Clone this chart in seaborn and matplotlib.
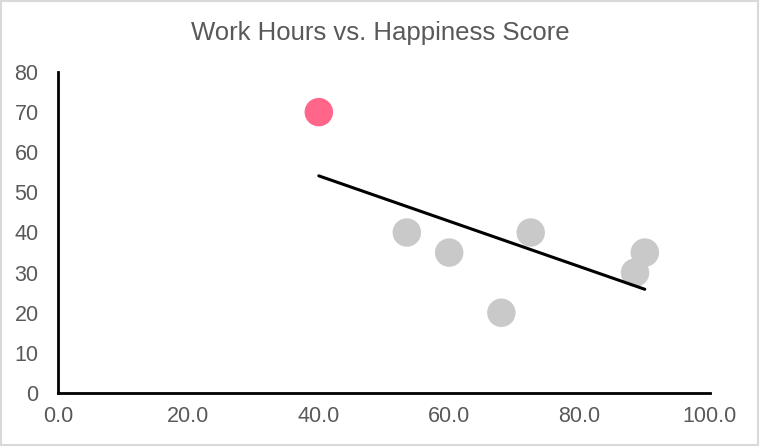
import numpy as np
import pandas as pd
import matplotlib
matplotlib.use('Agg')
import matplotlib.pyplot as plt
import seaborn as sns

# Данные
work_hours = [40, 53.5, 60, 68, 72.5, 88.5, 90]
happiness = [70, 40, 35, 20, 40, 30, 35]
highlight = [True, False, False, False, False, False, False]

df = pd.DataFrame({'Work Hours': work_hours, 'Happiness': happiness,
                   'Highlight': highlight})

sns.set_style('white')
plt.rcParams['font.family'] = ['Liberation Sans', 'DejaVu Sans']

fig = plt.figure(figsize=(7.6, 4.46), dpi=100)
ax = fig.add_axes([58 / 760, 1 - 393 / 446, 652 / 760, 321 / 446])

sns.scatterplot(data=df, x='Work Hours', y='Happiness', hue='Highlight',
                palette={True: '#FF6689', False: '#C9C9C9'}, s=420,
                edgecolor='none', legend=False, ax=ax, zorder=2)
sns.regplot(data=df, x='Work Hours', y='Happiness', scatter=False, ci=None,
            color='black', line_kws={'linewidth': 2.2, 'zorder': 3}, ax=ax)

ax.set_xlim(0, 100)
ax.set_ylim(0, 80)
ax.set_xticks(np.arange(0, 101, 20))
ax.set_xticklabels([f'{v:.1f}' for v in np.arange(0, 101, 20)])
ax.set_yticks(np.arange(0, 81, 10))
ax.set_xlabel('')
ax.set_ylabel('')
ax.tick_params(axis='both', length=0, labelsize=15.5, colors='#595959')
ax.tick_params(axis='x', pad=9)
ax.tick_params(axis='y', pad=14)
for side in ['top', 'right']:
    ax.spines[side].set_visible(False)
for side in ['left', 'bottom']:
    ax.spines[side].set_color('black')
    ax.spines[side].set_linewidth(2)

fig.text(0.5, 1 - 33 / 446, 'Work Hours vs. Happiness Score', ha='center',
         va='center', fontsize=18.5, color='#595959')

# рамка вокруг диаграммы
fig.patches.append(plt.Rectangle((0.001, 0.002), 0.997, 0.996,
                                 transform=fig.transFigure, fill=False,
                                 edgecolor='#D9D9D9', linewidth=1.5))

fig.savefig('out.png', dpi=100)
